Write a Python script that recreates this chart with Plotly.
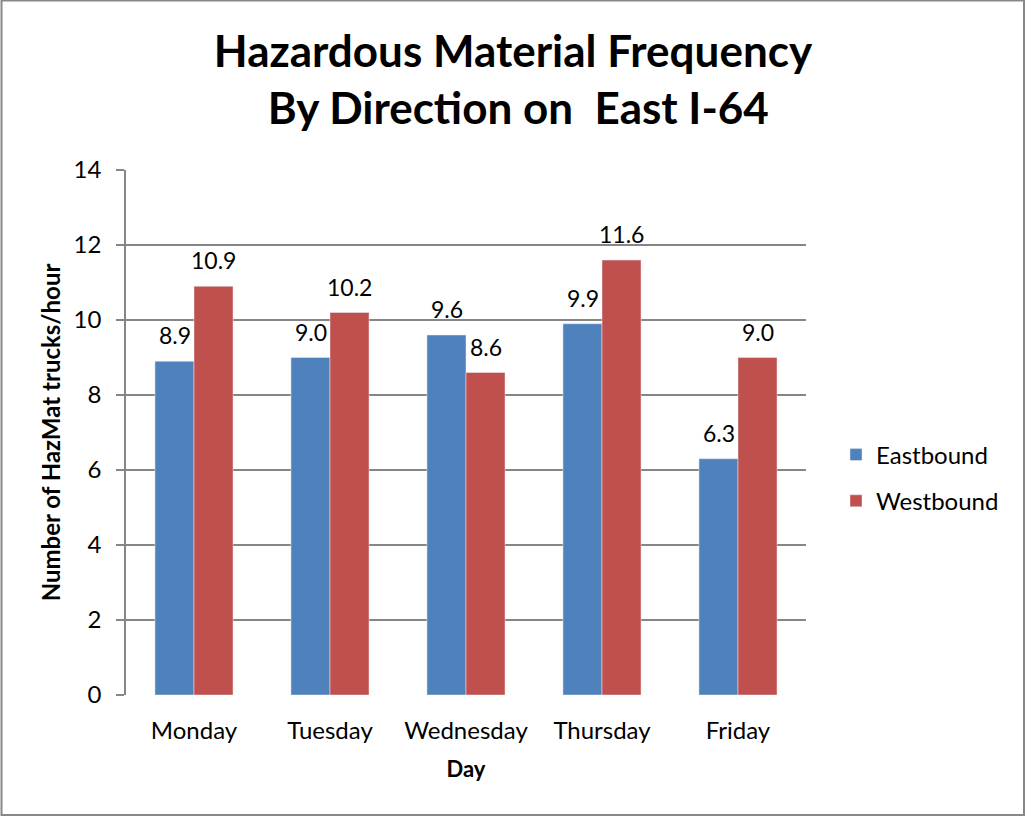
import plotly.graph_objects as go

days = ["Monday", "Tuesday", "Wednesday", "Thursday", "Friday"]
eastbound = [8.9, 9.0, 9.6, 9.9, 6.3]
westbound = [10.9, 10.2, 8.6, 11.6, 9.0]
y_ticks = [0, 2, 4, 6, 8, 10, 12, 14]

FONT = "Lato"
BLUE = "#4F81BD"
RED = "#C0504D"
GRID = "#868686"

W, H = 1026, 817
L, R, T, B = 126, 220, 170, 122
pw, ph = W - L - R, H - T - B

fig = go.Figure()
fig.add_trace(go.Bar(x=days, y=eastbound, name="Eastbound", marker_color=BLUE,
                     legendgroup="e"))
fig.add_trace(go.Bar(x=days, y=westbound, name="Westbound", marker_color=RED,
                     legendgroup="w"))

# value labels above the bars
annotations = []
for vals, shift in [(eastbound, -19.5), (westbound, 19.5)]:
    for d, v in zip(days, vals):
        annotations.append(dict(x=d, y=v, text=f"{v:.1f}", showarrow=False,
                                xshift=shift, yshift=26, yanchor="middle",
                                font=dict(family=FONT, size=23, color="black")))

# thin grey frame around the whole chart
def px_x(p):
    return (p - L) / pw

def px_y(p):
    return (H - B - p) / ph

fig.add_shape(type="rect", xref="paper", yref="paper",
              x0=px_x(1.5), x1=px_x(1024), y0=px_y(815), y1=px_y(0.5),
              line=dict(color="#888888", width=2))

fig.update_layout(
    width=W, height=H,
    margin=dict(l=L, r=R, t=T, b=B),
    paper_bgcolor="white", plot_bgcolor="white",
    barmode="group", bargap=0.426, bargroupgap=0,
    title=dict(text="<b>Hazardous Material Frequency<br> By Direction on  East I-64</b>",
               x=0.5, xref="container", xanchor="center", y=1 - 67 / H, yanchor="middle",
               font=dict(family=FONT, size=44, color="black")),
    font=dict(family=FONT, color="black"),
    legend=dict(x=px_x(836), y=px_y(478), xanchor="left", yanchor="middle",
                font=dict(family=FONT, size=24), tracegroupgap=12,
                traceorder="grouped", itemwidth=30),
    annotations=annotations,
)
fig.update_xaxes(showline=False, showgrid=False, ticks="outside", ticklen=14,
                 tickcolor="rgba(0,0,0,0)",
                 tickfont=dict(family=FONT, size=24),
                 title=dict(text="<b>Day</b>", font=dict(family=FONT, size=22), standoff=18))
fig.update_yaxes(range=[0, 14], tickvals=y_ticks, showgrid=True, gridcolor=GRID, gridwidth=1.5,
                 showline=True, linecolor=GRID, linewidth=1.5, ticks="outside", ticklen=8,
                 tickcolor=GRID, tickwidth=1.5, zeroline=False, ticklabelstandoff=10,
                 tickfont=dict(family=FONT, size=24),
                 title=dict(text="<b>Number of HazMat trucks/hour</b>",
                            font=dict(family=FONT, size=24), standoff=6))

fig.write_html("out.html", config={"displayModeBar": False},
               post_script="document.body.style.margin='0';")
